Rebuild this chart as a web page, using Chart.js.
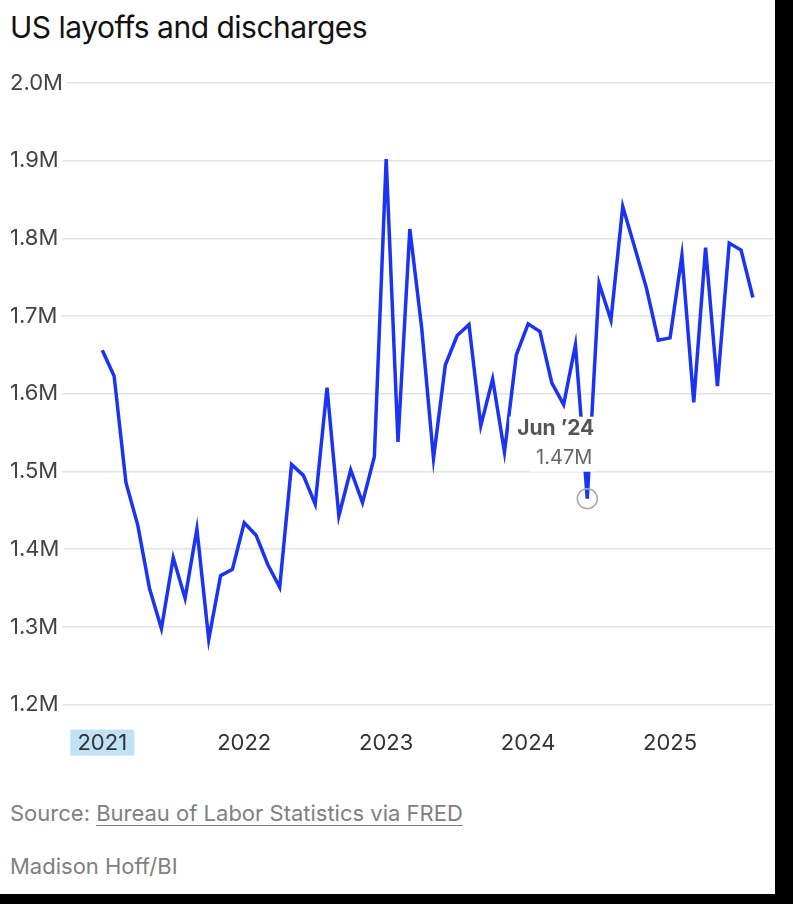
<!DOCTYPE html>
<html>
<head>
<meta charset="utf-8">
<script src="https://cdn.jsdelivr.net/npm/chart.js@4"></script>
<style>
  body { margin: 0; background: #000; font-family: Inter, "Noto Sans", sans-serif; }
  #card { position: absolute; left: 0; top: 0; width: 775px; height: 894px; background: #fff; }
  h1 { position: absolute; left: 10px; top: 9px; margin: 0; font-size: 30px; font-weight: 400; color: #111; letter-spacing: -0.5px; }
  #wrap { position: absolute; left: 0; top: 60px; width: 775px; height: 715px; }
  .foot { position: absolute; left: 10px; font-size: 22px; color: #808080; }
  .foot u { text-decoration-thickness: 1px; text-underline-offset: 4px; }
</style>
</head>
<body>
<div id="card">
  <h1>US layoffs and discharges</h1>
  <div id="wrap"><canvas id="chart"></canvas></div>
  <div class="foot" style="top:800px">Source: <u>Bureau of Labor Statistics via FRED</u></div>
  <div class="foot" style="top:853px">Madison Hoff/BI</div>
</div>
<script>
// monthly values, Jan 2021 .. Aug 2025 (millions)
const layoffs = [
  1.656, 1.623, 1.486, 1.431, 1.349, 1.298, 1.389, 1.337, 1.426, 1.284, 1.366, 1.374,
  1.434, 1.418, 1.380, 1.351, 1.509, 1.495, 1.458, 1.608, 1.443, 1.502, 1.460, 1.519,
  1.902, 1.538, 1.812, 1.685, 1.517, 1.637, 1.675, 1.689, 1.559, 1.619, 1.525, 1.650,
  1.690, 1.680, 1.614, 1.586, 1.663, 1.465, 1.742, 1.695, 1.841, 1.789, 1.736, 1.669,
  1.672, 1.778, 1.589, 1.788, 1.610, 1.794, 1.785, 1.724
];
const yearTicks = [0, 12, 24, 36, 48];
const yearLabels = ['2021', '2022', '2023', '2024', '2025'];
const yTicks = [1.2, 1.3, 1.4, 1.5, 1.6, 1.7, 1.8, 1.9, 2.0];
const noteIndex = 41;
const noteTitle = 'Jun \u201924';
const noteValue = '1.47M';

const points = layoffs.map((v, i) => ({ x: i, y: v }));

const notePlugin = {
  id: 'note',
  afterDatasetsDraw(chart) {
    const { ctx, scales: { x, y } } = chart;
    const px = x.getPixelForValue(noteIndex), py = y.getPixelForValue(layoffs[noteIndex]);
    ctx.save();
    ctx.fillStyle = '#fff';
    ctx.fillRect(px - 78, py - 82, 86, 28);
    ctx.fillRect(px - 58, py - 55, 64, 28);
    ctx.strokeStyle = '#aaa';
    ctx.lineWidth = 1.5;
    ctx.beginPath();
    ctx.arc(px, py, 10, 0, Math.PI * 2);
    ctx.stroke();
    ctx.textAlign = 'right';
    ctx.textBaseline = 'middle';
    ctx.fillStyle = '#555';
    ctx.font = 'bold 21px Inter, sans-serif';
    ctx.fillText(noteTitle, px + 7, py - 70);
    ctx.font = '20px Inter, sans-serif';
    ctx.fillStyle = '#666';
    ctx.fillText(noteValue, px + 5, py - 41);
    ctx.restore();
  },
  beforeDraw(chart) {
    const { ctx, scales: { x } } = chart;
    const px = x.getPixelForValue(0);
    ctx.save();
    ctx.fillStyle = '#bfe3f5';
    ctx.fillRect(px - 32, x.top + 25, 64, 26);
    ctx.restore();
  }
};

new Chart(document.getElementById('chart'), {
  type: 'line',
  data: {
    datasets: [{
      data: points,
      borderColor: '#1b33f2',
      borderWidth: 3.5,
      pointRadius: 0,
      tension: 0
    }]
  },
  options: {
    responsive: true,
    maintainAspectRatio: false,
    animation: false,
    layout: { padding: { left: 10, right: 2, top: 23, bottom: 0 } },
    plugins: { legend: { display: false }, tooltip: { enabled: false } },
    scales: {
      x: {
        type: 'linear',
        min: -7.8,
        max: 56.7,
        afterBuildTicks: axis => { axis.ticks = yearTicks.map(v => ({ value: v })); },
        grid: { display: false },
        border: { display: false },
        ticks: {
          callback: v => yearLabels[yearTicks.indexOf(v)],
          color: '#333',
          font: { size: 22, family: 'Inter, sans-serif' },
          padding: 18,
          maxRotation: 0
        }
      },
      y: {
        min: 1.2,
        max: 2.0,
        afterBuildTicks: axis => { axis.ticks = yTicks.map(v => ({ value: v })); },
        grid: { color: '#e3e3e3', lineWidth: 1.5, drawTicks: false },
        border: { display: false },
        ticks: {
          mirror: true,
          padding: 0,
          callback: v => v.toFixed(1) + 'M',
          color: '#444',
          font: { size: 22, family: 'Inter, sans-serif' },
          showLabelBackdrop: true,
          backdropColor: '#fff',
          backdropPadding: { left: 0, right: 4, top: 0, bottom: 0 }
        }
      }
    }
  },
  plugins: [notePlugin]
});
</script>
</body>
</html>
